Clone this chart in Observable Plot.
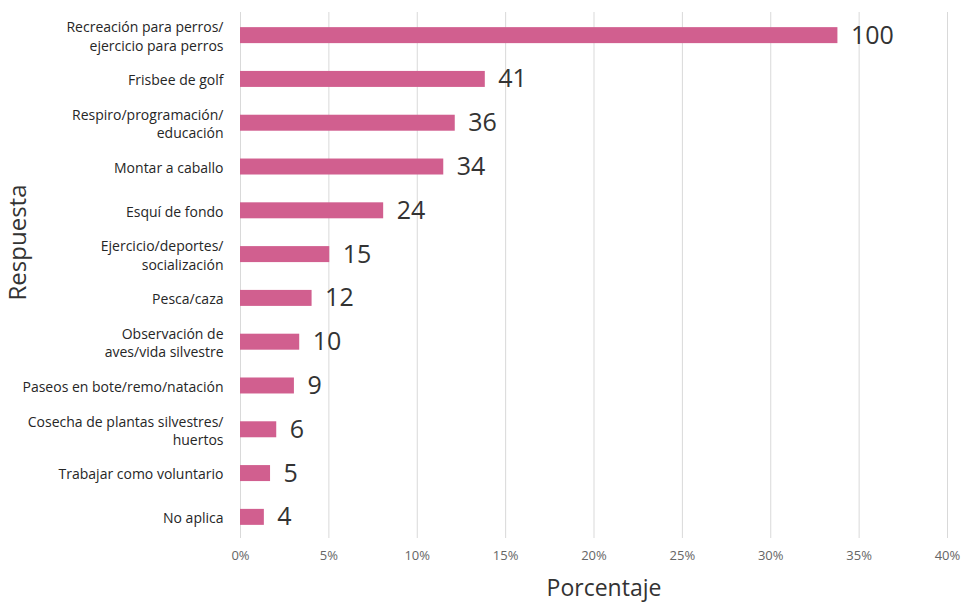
<!DOCTYPE html>
<html>
<head>
<meta charset="utf-8">
<script src="https://cdn.jsdelivr.net/npm/d3@7"></script>
<script src="https://cdn.jsdelivr.net/npm/@observablehq/plot@0.6"></script>
<style>
  html, body { margin: 0; padding: 0; background: #fff; }
  #chart { width: 961px; height: 604px; }
  svg { font-family: "Open Sans", "Liberation Sans", sans-serif; }
</style>
</head>
<body>
<div id="chart"></div>
<script>
// Categories (top to bottom), as displayed (with line breaks)
const categories = [
  "Recreación para perros/\nejercicio para perros",
  "Frisbee de golf",
  "Respiro/programación/\neducación",
  "Montar a caballo",
  "Esquí de fondo",
  "Ejercicio/deportes/\nsocialización",
  "Pesca/caza",
  "Observación de\naves/vida silvestre",
  "Paseos en bote/remo/natación",
  "Cosecha de plantas silvestres/\nhuertos",
  "Trabajar como voluntario",
  "No aplica"
];
// Bar lengths (percentage of respondents)
const percentages = [33.8, 13.85, 12.15, 11.5, 8.1, 5.05, 4.05, 3.35, 3.05, 2.05, 1.7, 1.35];
// Counts shown as value labels
const counts = [100, 41, 36, 34, 24, 15, 12, 10, 9, 6, 5, 4];
// X ticks
const xTicks = [0, 5, 10, 15, 20, 25, 30, 35, 40];

const data = categories.map((c, i) => ({cat: c, pct: percentages[i], n: counts[i]}));

const W = 961, H = 604;
const plot = Plot.plot({
  width: W,
  height: H,
  marginLeft: 240,
  marginRight: 14,
  marginTop: 12,
  marginBottom: 66,
  style: {fontFamily: "'Open Sans', 'Liberation Sans', sans-serif", background: "#fff"},
  x: {domain: [0, 40], ticks: xTicks},
  y: {domain: categories, range: [14, 538], paddingInner: 0.635, paddingOuter: 0.3, round: false, axis: null},
  marks: [
    Plot.ruleX(xTicks, {stroke: "#d9d9d9", strokeWidth: 1}),
    Plot.barX(data, {y: "cat", x: "pct", fill: "#d15f8f"}),
    Plot.text(data, {
      y: "cat", x: "pct", text: d => String(d.n),
      textAnchor: "start", dx: 13, fontSize: 25, fill: "#333333"
    }),
    Plot.text(data, {
      y: "cat", x: 0, text: "cat",
      textAnchor: "end", lineAnchor: "middle", dx: -17, fontSize: 14, fill: "#262626", lineHeight: 1.3
    }),
    Plot.axisX({
      ticks: xTicks, tickSize: 0, tickPadding: 12, fontSize: 13, color: "#666666",
      tickFormat: d => d + "%", label: null
    }),
    Plot.text(["Porcentaje"], {
      frameAnchor: "bottom", textAnchor: "middle", lineAnchor: "bottom", dy: 57, dx: 10, fontSize: 23, fill: "#333333"
    }),
    Plot.text(["Respuesta"], {
      frameAnchor: "left", textAnchor: "middle", dx: -222, dy: -33, rotate: -90, fontSize: 24, fill: "#333333"
    })
  ]
});
document.getElementById("chart").appendChild(plot);
</script>
</body>
</html>
